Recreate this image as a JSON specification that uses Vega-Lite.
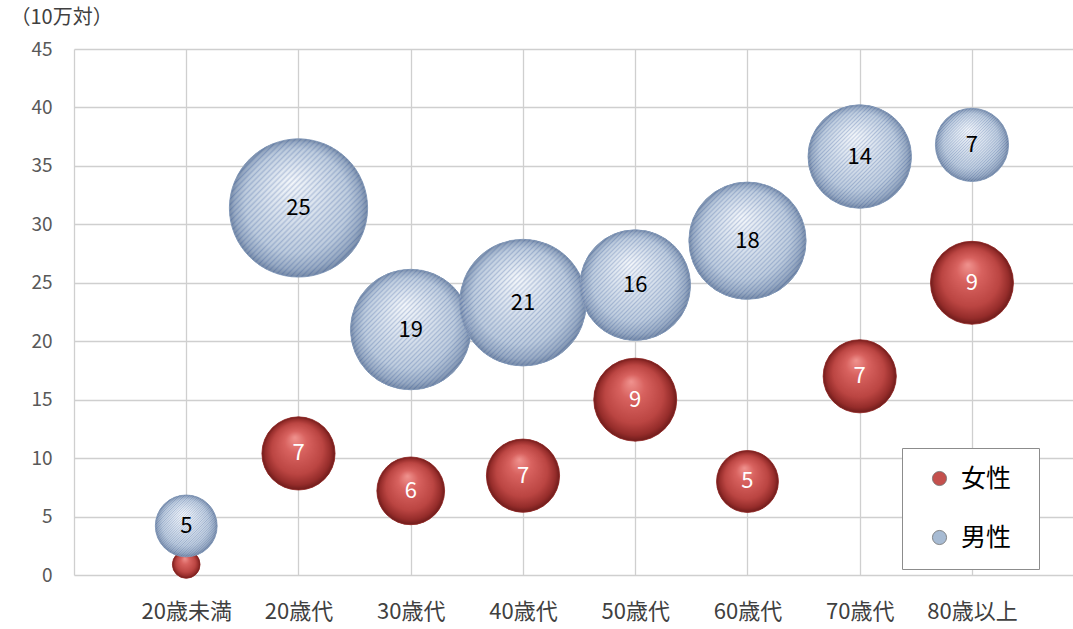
{
  "$schema": "https://vega.github.io/schema/vega-lite/v6.json",
  "width": 999,
  "height": 526,
  "autosize": {"type": "none"},
  "padding": {"left": 74, "top": 49, "right": 0, "bottom": 54},
  "background": "#ffffff",
  "config": {
    "view": {"stroke": null},
    "font": "Noto Sans CJK JP"
  },
  "data": {
    "values": [
      {"age": "20歳未満", "sex": "女性", "rate": 0.9, "n": 1},
      {"age": "20歳代", "sex": "女性", "rate": 10.4, "n": 7},
      {"age": "30歳代", "sex": "女性", "rate": 7.2, "n": 6},
      {"age": "40歳代", "sex": "女性", "rate": 8.5, "n": 7},
      {"age": "50歳代", "sex": "女性", "rate": 15.0, "n": 9},
      {"age": "60歳代", "sex": "女性", "rate": 8.0, "n": 5},
      {"age": "70歳代", "sex": "女性", "rate": 17.0, "n": 7},
      {"age": "80歳以上", "sex": "女性", "rate": 25.0, "n": 9},
      {"age": "20歳未満", "sex": "男性", "rate": 4.2, "n": 5},
      {"age": "20歳代", "sex": "男性", "rate": 31.4, "n": 25},
      {"age": "30歳代", "sex": "男性", "rate": 21.0, "n": 19},
      {"age": "40歳代", "sex": "男性", "rate": 23.3, "n": 21},
      {"age": "50歳代", "sex": "男性", "rate": 24.8, "n": 16},
      {"age": "60歳代", "sex": "男性", "rate": 28.6, "n": 18},
      {"age": "70歳代", "sex": "男性", "rate": 35.8, "n": 14},
      {"age": "80歳以上", "sex": "男性", "rate": 36.8, "n": 7}
    ]
  },
  "encoding": {
    "x": {
      "field": "age",
      "type": "ordinal",
      "sort": null,
      "scale": {"type": "point", "padding": 0.95, "align": 0.5263},
      "axis": {
        "title": null,
        "labelAngle": 0,
        "labelFontSize": 22,
        "labelColor": "#404040",
        "labelPadding": 26,
        "ticks": false,
        "domain": false,
        "grid": true,
        "gridColor": "#cfcfcf",
        "gridWidth": 1.3
      }
    },
    "y": {
      "field": "rate",
      "type": "quantitative",
      "scale": {"domain": [0, 45], "nice": false},
      "axis": {
        "values": [0, 5, 10, 15, 20, 25, 30, 35, 40, 45],
        "title": "（10万対）",
        "titleAngle": 0,
        "titleAlign": "left",
        "titleBaseline": "top",
        "titleX": -64,
        "titleY": -42,
        "titleFontSize": 20,
        "titleFontWeight": "normal",
        "titleColor": "#404040",
        "labelFontSize": 19,
        "labelColor": "#595959",
        "labelPadding": 22,
        "ticks": false,
        "domain": true,
        "domainColor": "#cfcfcf",
        "domainWidth": 1.3,
        "gridColor": "#cfcfcf",
        "gridWidth": 1.3
      }
    },
    "size": {
      "field": "n",
      "type": "quantitative",
      "scale": {"type": "linear", "domain": [0, 25], "range": [0, 19113]},
      "legend": null
    }
  },
  "layer": [
    {
      "mark": {"type": "point", "shape": "circle", "filled": true, "opacity": 1, "strokeWidth": 0},
      "encoding": {
        "fill": {
          "field": "sex",
          "type": "nominal",
          "scale": {"domain": ["女性", "男性"], "range": ["#c4504d", "#a7bbd3"]},
          "legend": {
            "title": "　",
            "titleOrient": "right",
            "titleFontSize": 10,
            "titlePadding": 10,
            "orient": "none",
            "legendX": 828,
            "legendY": 399,
            "direction": "vertical",
            "padding": 18,
            "rowPadding": 33,
            "labelFontSize": 25,
            "labelColor": "#000000",
            "labelOffset": 9,
            "symbolOffset": 7,
            "symbolType": "circle",
            "symbolSize": 200,
            "symbolStrokeWidth": 0.8,
            "symbolStrokeColor": "#6f6f6f",
            "strokeColor": "#8c8c8c",
            "fillColor": "#ffffff",
            "cornerRadius": 0
          }
        }
      }
    },
    {
      "mark": {"type": "point", "shape": "circle", "filled": true, "opacity": 1},
      "encoding": {
        "fill": {
          "condition": {
            "test": "datum.sex === '女性'",
            "value": {"gradient": "radial", "x1": 0.45, "y1": 0.28, "r1": 0, "x2": 0.5, "y2": 0.5, "r2": 0.5,
              "stops": [
                {"offset": 0, "color": "#f0938f"},
                {"offset": 0.3, "color": "#d8625f"},
                {"offset": 0.7, "color": "#bb4542"},
                {"offset": 0.9, "color": "#952c2a"},
                {"offset": 1, "color": "#6e1c1b"}
              ]}
          },
          "value": {"gradient": "radial", "x1": 0.45, "y1": 0.3, "r1": 0, "x2": 0.5, "y2": 0.5, "r2": 0.5,
            "stops": [
              {"offset": 0, "color": "#f6f9fc"},
              {"offset": 0.4, "color": "#d6e0ec"},
              {"offset": 0.75, "color": "#b7c7da"},
              {"offset": 0.92, "color": "#8ca0bb"},
              {"offset": 1, "color": "#647a9a"}
            ]}
        },
        "stroke": {
          "condition": {"test": "datum.sex === '男性'", "value": "#7f95b5"},
          "value": "#8e2826"
        },
        "strokeWidth": {"value": 0.8}
      }
    },
    {
      "transform": [{"filter": "datum.sex === '男性'"}],
      "mark": {
        "type": "point",
        "shape": "circle",
        "filled": true,
        "opacity": 1,
        "strokeWidth": 0,
        "fill": {
          "gradient": "linear", "x1": 0, "y1": 0, "x2": 1, "y2": 1,
          "stops": [
            {"offset": 0.00, "color": "rgba(80,110,170,0.3)"},
            {"offset": 0.01, "color": "rgba(255,255,255,0.12)"},
            {"offset": 0.02, "color": "rgba(80,110,170,0.3)"},
            {"offset": 0.03, "color": "rgba(255,255,255,0.12)"},
            {"offset": 0.04, "color": "rgba(80,110,170,0.3)"},
            {"offset": 0.05, "color": "rgba(255,255,255,0.12)"},
            {"offset": 0.06, "color": "rgba(80,110,170,0.3)"},
            {"offset": 0.07, "color": "rgba(255,255,255,0.12)"},
            {"offset": 0.08, "color": "rgba(80,110,170,0.3)"},
            {"offset": 0.09, "color": "rgba(255,255,255,0.12)"},
            {"offset": 0.10, "color": "rgba(80,110,170,0.3)"},
            {"offset": 0.11, "color": "rgba(255,255,255,0.12)"},
            {"offset": 0.12, "color": "rgba(80,110,170,0.3)"},
            {"offset": 0.13, "color": "rgba(255,255,255,0.12)"},
            {"offset": 0.14, "color": "rgba(80,110,170,0.3)"},
            {"offset": 0.15, "color": "rgba(255,255,255,0.12)"},
            {"offset": 0.16, "color": "rgba(80,110,170,0.3)"},
            {"offset": 0.17, "color": "rgba(255,255,255,0.12)"},
            {"offset": 0.18, "color": "rgba(80,110,170,0.3)"},
            {"offset": 0.19, "color": "rgba(255,255,255,0.12)"},
            {"offset": 0.20, "color": "rgba(80,110,170,0.3)"},
            {"offset": 0.21, "color": "rgba(255,255,255,0.12)"},
            {"offset": 0.22, "color": "rgba(80,110,170,0.3)"},
            {"offset": 0.23, "color": "rgba(255,255,255,0.12)"},
            {"offset": 0.24, "color": "rgba(80,110,170,0.3)"},
            {"offset": 0.25, "color": "rgba(255,255,255,0.12)"},
            {"offset": 0.26, "color": "rgba(80,110,170,0.3)"},
            {"offset": 0.27, "color": "rgba(255,255,255,0.12)"},
            {"offset": 0.28, "color": "rgba(80,110,170,0.3)"},
            {"offset": 0.29, "color": "rgba(255,255,255,0.12)"},
            {"offset": 0.30, "color": "rgba(80,110,170,0.3)"},
            {"offset": 0.31, "color": "rgba(255,255,255,0.12)"},
            {"offset": 0.32, "color": "rgba(80,110,170,0.3)"},
            {"offset": 0.33, "color": "rgba(255,255,255,0.12)"},
            {"offset": 0.34, "color": "rgba(80,110,170,0.3)"},
            {"offset": 0.35, "color": "rgba(255,255,255,0.12)"},
            {"offset": 0.36, "color": "rgba(80,110,170,0.3)"},
            {"offset": 0.37, "color": "rgba(255,255,255,0.12)"},
            {"offset": 0.38, "color": "rgba(80,110,170,0.3)"},
            {"offset": 0.39, "color": "rgba(255,255,255,0.12)"},
            {"offset": 0.40, "color": "rgba(80,110,170,0.3)"},
            {"offset": 0.41, "color": "rgba(255,255,255,0.12)"},
            {"offset": 0.42, "color": "rgba(80,110,170,0.3)"},
            {"offset": 0.43, "color": "rgba(255,255,255,0.12)"},
            {"offset": 0.44, "color": "rgba(80,110,170,0.3)"},
            {"offset": 0.45, "color": "rgba(255,255,255,0.12)"},
            {"offset": 0.46, "color": "rgba(80,110,170,0.3)"},
            {"offset": 0.47, "color": "rgba(255,255,255,0.12)"},
            {"offset": 0.48, "color": "rgba(80,110,170,0.3)"},
            {"offset": 0.49, "color": "rgba(255,255,255,0.12)"},
            {"offset": 0.50, "color": "rgba(80,110,170,0.3)"},
            {"offset": 0.51, "color": "rgba(255,255,255,0.12)"},
            {"offset": 0.52, "color": "rgba(80,110,170,0.3)"},
            {"offset": 0.53, "color": "rgba(255,255,255,0.12)"},
            {"offset": 0.54, "color": "rgba(80,110,170,0.3)"},
            {"offset": 0.55, "color": "rgba(255,255,255,0.12)"},
            {"offset": 0.56, "color": "rgba(80,110,170,0.3)"},
            {"offset": 0.57, "color": "rgba(255,255,255,0.12)"},
            {"offset": 0.58, "color": "rgba(80,110,170,0.3)"},
            {"offset": 0.59, "color": "rgba(255,255,255,0.12)"},
            {"offset": 0.60, "color": "rgba(80,110,170,0.3)"},
            {"offset": 0.61, "color": "rgba(255,255,255,0.12)"},
            {"offset": 0.62, "color": "rgba(80,110,170,0.3)"},
            {"offset": 0.63, "color": "rgba(255,255,255,0.12)"},
            {"offset": 0.64, "color": "rgba(80,110,170,0.3)"},
            {"offset": 0.65, "color": "rgba(255,255,255,0.12)"},
            {"offset": 0.66, "color": "rgba(80,110,170,0.3)"},
            {"offset": 0.67, "color": "rgba(255,255,255,0.12)"},
            {"offset": 0.68, "color": "rgba(80,110,170,0.3)"},
            {"offset": 0.69, "color": "rgba(255,255,255,0.12)"},
            {"offset": 0.70, "color": "rgba(80,110,170,0.3)"},
            {"offset": 0.71, "color": "rgba(255,255,255,0.12)"},
            {"offset": 0.72, "color": "rgba(80,110,170,0.3)"},
            {"offset": 0.73, "color": "rgba(255,255,255,0.12)"},
            {"offset": 0.74, "color": "rgba(80,110,170,0.3)"},
            {"offset": 0.75, "color": "rgba(255,255,255,0.12)"},
            {"offset": 0.76, "color": "rgba(80,110,170,0.3)"},
            {"offset": 0.77, "color": "rgba(255,255,255,0.12)"},
            {"offset": 0.78, "color": "rgba(80,110,170,0.3)"},
            {"offset": 0.79, "color": "rgba(255,255,255,0.12)"},
            {"offset": 0.80, "color": "rgba(80,110,170,0.3)"},
            {"offset": 0.81, "color": "rgba(255,255,255,0.12)"},
            {"offset": 0.82, "color": "rgba(80,110,170,0.3)"},
            {"offset": 0.83, "color": "rgba(255,255,255,0.12)"},
            {"offset": 0.84, "color": "rgba(80,110,170,0.3)"},
            {"offset": 0.85, "color": "rgba(255,255,255,0.12)"},
            {"offset": 0.86, "color": "rgba(80,110,170,0.3)"},
            {"offset": 0.87, "color": "rgba(255,255,255,0.12)"},
            {"offset": 0.88, "color": "rgba(80,110,170,0.3)"},
            {"offset": 0.89, "color": "rgba(255,255,255,0.12)"},
            {"offset": 0.90, "color": "rgba(80,110,170,0.3)"},
            {"offset": 0.91, "color": "rgba(255,255,255,0.12)"},
            {"offset": 0.92, "color": "rgba(80,110,170,0.3)"},
            {"offset": 0.93, "color": "rgba(255,255,255,0.12)"},
            {"offset": 0.94, "color": "rgba(80,110,170,0.3)"},
            {"offset": 0.95, "color": "rgba(255,255,255,0.12)"},
            {"offset": 0.96, "color": "rgba(80,110,170,0.3)"},
            {"offset": 0.97, "color": "rgba(255,255,255,0.12)"},
            {"offset": 0.98, "color": "rgba(80,110,170,0.3)"},
            {"offset": 0.99, "color": "rgba(255,255,255,0.12)"},
            {"offset": 1.00, "color": "rgba(80,110,170,0.3)"}
          ]
        }
      }
    },
    {
      "transform": [{"filter": "datum.n > 1"}],
      "mark": {"type": "text", "fontSize": 22, "font": "Noto Sans CJK JP", "baseline": "middle", "align": "center"},
      "encoding": {
        "size": {"value": 22},
        "text": {"field": "n", "type": "quantitative"},
        "color": {
          "condition": {"test": "datum.sex === '女性'", "value": "#ffffff"},
          "value": "#000000"
        }
      }
    }
  ]
}
